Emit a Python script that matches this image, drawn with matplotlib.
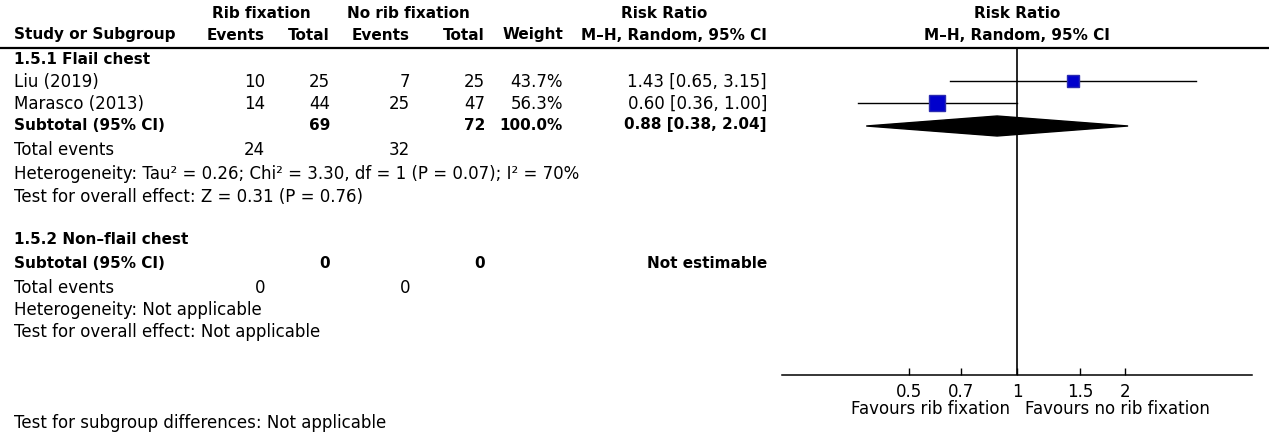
import numpy as np
import matplotlib
matplotlib.use("Agg")
import matplotlib.pyplot as plt
from matplotlib.patches import Polygon

W, H = 1269, 432
FS = 12
FSB = 11

# data
studies = ["Liu (2019)", "Marasco (2013)"]
rib_events = [10, 14]
rib_total = [25, 44]
norib_events = [7, 25]
norib_total = [25, 47]
weights = [43.7, 56.3]
rr = [1.43, 0.60]
rr_lo = [0.65, 0.36]
rr_hi = [3.15, 1.00]

sub_rib_total = 69
sub_norib_total = 72
sub_rib_events = 24
sub_norib_events = 32
sub_rr, sub_lo, sub_hi = 0.88, 0.38, 2.04

ticks = [0.5, 0.7, 1, 1.5, 2]
tick_labels = ["0.5", "0.7", "1", "1.5", "2"]

fig = plt.figure(figsize=(W / 100, H / 100), dpi=100)
ax = fig.add_axes([0, 0, 1, 1])
ax.set_xlim(0, W)
ax.set_ylim(H, 0)
ax.axis("off")

def t(x, y, s, ha="left", bold=False):
    ax.text(x, y, s, ha=ha, va="center", fontsize=FSB if bold else FS,
            fontweight="bold" if bold else "normal")

# column right edges
c_re, c_rt, c_ne, c_nt, c_w, c_ci = 265, 330, 410, 485, 563, 767

# header
t(261, 13, "Rib fixation", ha="center", bold=True)
t(408, 13, "No rib fixation", ha="center", bold=True)
t(664, 13, "Risk Ratio", ha="center", bold=True)
t(1017, 13, "Risk Ratio", ha="center", bold=True)
t(14, 35, "Study or Subgroup", bold=True)
t(c_re, 35, "Events", ha="right", bold=True)
t(c_rt, 35, "Total", ha="right", bold=True)
t(c_ne, 35, "Events", ha="right", bold=True)
t(c_nt, 35, "Total", ha="right", bold=True)
t(c_w, 35, "Weight", ha="right", bold=True)
t(c_ci, 35, "M\u2013H, Random, 95% CI", ha="right", bold=True)
t(1017, 35, "M\u2013H, Random, 95% CI", ha="center", bold=True)
ax.plot([0, W], [47.5, 47.5], color="black", lw=1.6)

# subgroup 1
t(14, 59, "1.5.1 Flail chest", bold=True)
rows_y = [82, 104]
for i, y in enumerate(rows_y):
    t(14, y, studies[i])
    t(c_re, y, str(rib_events[i]), ha="right")
    t(c_rt, y, str(rib_total[i]), ha="right")
    t(c_ne, y, str(norib_events[i]), ha="right")
    t(c_nt, y, str(norib_total[i]), ha="right")
    t(c_w, y, f"{weights[i]:.1f}%", ha="right")
    t(c_ci, y, f"{rr[i]:.2f} [{rr_lo[i]:.2f}, {rr_hi[i]:.2f}]", ha="right")
t(14, 125, "Subtotal (95% CI)", bold=True)
t(c_rt, 125, str(sub_rib_total), ha="right", bold=True)
t(c_nt, 125, str(sub_norib_total), ha="right", bold=True)
t(c_w, 125, "100.0%", ha="right", bold=True)
t(c_ci, 125, f"{sub_rr:.2f} [{sub_lo:.2f}, {sub_hi:.2f}]", ha="right", bold=True)
t(14, 150, "Total events")
t(c_re, 150, str(sub_rib_events), ha="right")
t(c_ne, 150, str(sub_norib_events), ha="right")
t(14, 174, "Heterogeneity: Tau\u00b2 = 0.26; Chi\u00b2 = 3.30, df = 1 (P = 0.07); I\u00b2 = 70%")
t(14, 197, "Test for overall effect: Z = 0.31 (P = 0.76)")

# subgroup 2
t(14, 240, "1.5.2 Non\u2013flail chest", bold=True)
t(14, 263, "Subtotal (95% CI)", bold=True)
t(c_rt, 263, "0", ha="right", bold=True)
t(c_nt, 263, "0", ha="right", bold=True)
t(c_ci, 263, "Not estimable", ha="right", bold=True)
t(14, 288, "Total events")
t(c_re, 288, "0", ha="right")
t(c_ne, 288, "0", ha="right")
t(14, 310, "Heterogeneity: Not applicable")
t(14, 332, "Test for overall effect: Not applicable")

t(14, 423, "Test for subgroup differences: Not applicable")
t(1010, 409, "Favours rib fixation", ha="right")
t(1025, 409, "Favours no rib fixation", ha="left")

# forest panel, y in pixel units, x log scale
x0, x1, ytop, ybot = 782, 1252, 47.5, 375
px_per_ln = 108 / np.log(2)
fa = fig.add_axes([x0 / W, (H - ybot) / H, (x1 - x0) / W, (ybot - ytop) / H])
fa.set_xscale("log")
fa.set_xlim(np.exp((x0 - 1017) / px_per_ln), np.exp((x1 - 1017) / px_per_ln))
fa.set_ylim(ybot, ytop)
fa.patch.set_alpha(0)
for s in ["top", "left", "right"]:
    fa.spines[s].set_visible(False)
fa.spines["bottom"].set_linewidth(1.1)
fa.set_yticks([])
fa.set_xticks(ticks)
fa.set_xticklabels(tick_labels, fontsize=FS)
fa.xaxis.set_minor_locator(matplotlib.ticker.NullLocator())
fa.tick_params(axis="x", direction="in", length=5, width=1, pad=5.5)

fa.plot([1, 1], [ytop, ybot], color="black", lw=1.2)
for i, y in enumerate(rows_y):
    fa.plot([rr_lo[i], rr_hi[i]], [y - 1, y - 1], color="black", lw=1)
    fa.plot(rr[i], y - 1, marker="s", markersize=weights[i] * 0.2,
            markerfacecolor="#0000cc", markeredgecolor="#2a2ab0", lw=0)
dh = 10
fa.add_patch(Polygon([(sub_lo, 126), (sub_rr, 126 - dh), (sub_hi, 126), (sub_rr, 126 + dh)],
                     closed=True, facecolor="black", edgecolor="black"))

fig.savefig("out.png", dpi=100)
